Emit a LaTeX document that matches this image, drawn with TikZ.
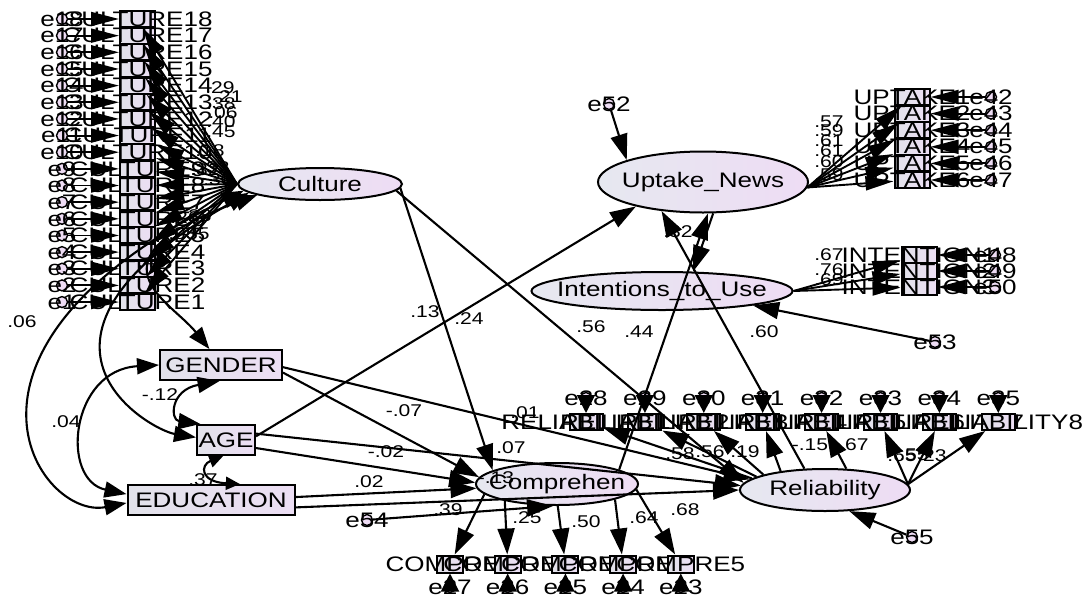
\documentclass[tikz,border=0pt]{standalone}
\usepackage{fontspec}
\usetikzlibrary{arrows.meta,shapes.geometric}
\newfontfamily\amosfont{Liberation Sans}[FakeStretch=1.24]
\newcommand\vname{\amosfont\fontsize{21}{21}\selectfont}
\newcommand\estname{\amosfont\fontsize{17}{17}\selectfont}
\definecolor{boxl}{RGB}{226,226,234}
\definecolor{boxr}{RGB}{236,222,244}
\definecolor{ell}{RGB}{230,232,240}
\definecolor{elr}{RGB}{238,220,244}
\tikzset{
    obs/.style={draw, line width=2pt, inner sep=0pt, left color=boxl, right color=boxr},
    lat/.style={draw, ellipse, line width=2pt, inner sep=0pt, left color=ell, right color=elr},
    err/.style={draw, circle, line width=1.4pt, minimum size=11pt, inner sep=0pt, fill=elr},
    vtext/.style={font=\vname, inner sep=0pt},
    est/.style={font=\estname, inner sep=0pt},
    reg/.style={line width=2.1pt, -{Triangle[length=26pt,width=17pt]}},
    ind/.style={line width=1.9pt, -{Triangle[length=28pt,width=14pt]}},
    short/.style={line width=1.9pt, -{Triangle[length=18pt,width=18pt]}},
    cov/.style={line width=2.1pt, {Triangle[length=22pt,width=16pt]}-{Triangle[length=22pt,width=16pt]}},
    smallcov/.style={line width=2.1pt, {Triangle[length=14pt,width=13pt]}-{Triangle[length=14pt,width=13pt]}}
}

\begin{document}
\begin{tikzpicture}[x=1pt,y=-1pt]
    \useasboundingbox (0,0) rectangle (1085,598);

    \node[lat, minimum width=164pt, minimum height=32pt, label={[vtext]center:Culture}] (Culture) at (320,184) {};
    \node[lat, minimum width=210pt, minimum height=61pt, label={[vtext]center:Uptake\_News}] (Uptake) at (703,182) {};
    \node[lat, minimum width=261pt, minimum height=38pt, label={[vtext]center:Intentions\_to\_Use}] (Intent) at (662,291) {};
    \node[lat, minimum width=162pt, minimum height=42pt, label={[vtext]center:Comprehen}] (Comp) at (557,484) {};
    \node[lat, minimum width=170pt, minimum height=42pt, label={[vtext]center:Reliability}] (Rel) at (825,490) {};

    \node[obs, minimum width=122pt, minimum height=30pt, font=\vname] (Gender) at (221,365) {GENDER};
    \node[obs, minimum width=58pt, minimum height=30pt, font=\vname] (Age) at (226,440) {AGE};
    \node[obs, minimum width=167pt, minimum height=30pt, font=\vname] (Edu) at (211,500) {EDUCATION};

    \node[err, label={[vtext]center:e52}] (e52) at (609,104) {};
    \node[err, label={[vtext]center:e53}] (e53) at (935,342) {};
    \node[err, label={[vtext]center:e54}] (e54) at (367,520) {};
    \node[err, label={[vtext]center:e55}] (e55) at (912,537) {};

    \foreach \k in {1,...,18}{
        \pgfmathsetmacro\yy{19+(18-\k)*16.65}
        \node[obs, minimum width=35pt, minimum height=16pt, label={[vtext]center:CULTURE\k}] (c\k) at (137.5,\yy) {};
        \node[err, label={[vtext]center:e\k}] (e\k) at (62,\yy) {};
    }

    \foreach \j in {1,...,6}{
        \pgfmathsetmacro\yy{97+(\j-1)*16.6}
        \pgfmathtruncatemacro\en{41+\j}
        \node[obs, minimum width=35pt, minimum height=16pt, label={[vtext]center:UPTAKE\j}] (u\j) at (912,\yy) {};
        \node[err, label={[vtext]center:e\en}] (e\en) at (991,\yy) {};
    }

    \foreach \j in {1,2,3}{
        \pgfmathsetmacro\yy{255+(\j-1)*16}
        \pgfmathtruncatemacro\en{47+\j}
        \node[obs, minimum width=35pt, minimum height=16pt, label={[vtext]center:INTENTION\j}] (i\j) at (919,\yy) {};
        \node[err, label={[vtext]center:e\en}] (e\en) at (995,\yy) {};
    }

    \foreach \j in {1,...,8}{
        \pgfmathsetmacro\xx{586+(\j-1)*58.9}
        \pgfmathtruncatemacro\en{27+\j}
        \node[obs, minimum width=33pt, minimum height=16pt, label={[vtext]center:RELIABILITY\j}] (r\j) at (\xx,422) {};
        \node[err, label={[vtext]center:e\en}] (e\en) at (\xx,398) {};
    }

    \foreach \j in {1,...,5}{
        \pgfmathsetmacro\xx{450+(\j-1)*57.7}
        \pgfmathtruncatemacro\en{28-\j}
        \node[obs, minimum width=26pt, minimum height=17pt, label={[vtext]center:COMPRE\j}] (p\j) at (\xx,564) {};
        \node[err, label={[vtext]center:e\en}] (e\en) at (\xx,587) {};
    }

    \foreach \k in {1,...,18}{
        \draw[ind] (e\k) to (c\k);
        \draw[ind] (Culture.west) to (c\k);
    }
    \foreach \j in {1,...,6}{
        \pgfmathtruncatemacro\en{41+\j}
        \draw[ind] (e\en) to (u\j);
        \draw[ind] (Uptake.-3) to (u\j);
    }
    \foreach \j in {1,2,3}{
        \pgfmathtruncatemacro\en{47+\j}
        \draw[ind] (e\en) to (i\j);
        \draw[ind] (Intent.east) to (i\j);
    }
    \foreach \j/\a in {1/171,2/169,3/166,4/157,5/45,6/4,7/4,8/4}{
        \pgfmathtruncatemacro\en{27+\j}
        \draw[short] (e\en) to (r\j);
        \draw[reg] (Rel.\a) to (r\j);
    }
    \foreach \j/\a in {1/188,2/-162,3/-88,4/-15,5/-4}{
        \pgfmathtruncatemacro\en{28-\j}
        \draw[short] (e\en) to (p\j);
        \draw[reg] (Comp.\a) to (p\j);
    }

    \draw[reg] (Culture.-3) to (Comp.168);
    \draw[reg] (Culture.-5) to (Rel.175);
    \draw[reg] (Gender.-7) to (Comp.175);
    \draw[reg] (Gender.-2) to (Rel.172);
    \draw[reg] (Age.-15) to (Comp.179);
    \draw[reg] (Age.12) to (Rel.177);
    \draw[reg] (Age.7) to (Uptake.-160);
    \draw[reg] (Edu.2) to (Comp.183);
    \draw[reg] (Edu.-5) to (Rel.west);
    \draw[reg] (Comp.13) to (Uptake.-81);
    \draw[reg] (Rel.134) to (Uptake.-145);
    \draw[reg] (Uptake.-72) to (Intent.32);
    \draw[reg] (e52) to (Uptake.164);
    \draw[reg] (e53) to (Intent.-9);
    \draw[reg] (e54) to (Comp.-100);
    \draw[reg] (e55) to (Rel.-41);

    \draw[cov] (Culture.185) .. controls (-80,350) and (40,520) .. (Edu.-178);
    \draw[cov] (Culture.187) .. controls (-10,340) and (150,430) .. (Age.175);
    \draw[cov] (Culture.190) .. controls (80,260) and (170,300) .. (Gender.126);
    \draw[cov] (Gender.west) .. controls (70,370) and (60,480) .. (Edu.176);
    \draw[cov] (Gender.-95) .. controls (170,390) and (170,420) .. (Age.148);
    \draw[smallcov] (Age.-100) .. controls (200,465) and (200,482) .. (Edu.29);

    \foreach \v/\x/\y [count=\i] in {.29/220/88, .21/228/97, .38/221/104, .06/223/113,
        .40/221/122, .45/221/132, .18/210/151, .32/205/170, .33/215/168, .30/218/180,
        .26/185/218, .28/197/216, .05/183/234, .35/195/234, .46/152/262}{
        \node[est] (lc\i) at (\x,\y) {\v};
    }
    \foreach \v/\y [count=\i] in {.57/122, .59/131, .61/141, .61/151, .60/162, .59/175}{
        \node[est] (lu\i) at (829,\y) {\v};
    }
    \foreach \v/\y [count=\i] in {.67/255, .76/270, .69/280}{
        \node[est] (li\i) at (829,\y) {\v};
    }
    \foreach \v/\x/\y [count=\i] in {.58/680/454, .56/710/452, .19/745/452, -.15/810/445,
        .67/854/445, .65/902/456, .55/914/455, .23/932/456}{
        \node[est] (lr\i) at (\x,\y) {\v};
    }
    \foreach \v/\x/\y [count=\i] in {.39/448/510, .25/527/518, .50/586/522, .64/644/518, .68/685/510}{
        \node[est] (lp\i) at (\x,\y) {\v};
    }
    \foreach \v/\x/\y [count=\i] in {.06/22/322, .04/66/422, -.12/160/395, .37/203/480,
        .13/425/312, .24/469/319, -.07/404/411, -.02/386/452, .02/369/482, .07/511/448,
        -.13/496/478, .56/591/327, .44/639/332, .32/678/232, .60/764/332, .01/525/413}{
        \node[est] (ls\i) at (\x,\y) {\v};
    }
\end{tikzpicture}
\end{document}
